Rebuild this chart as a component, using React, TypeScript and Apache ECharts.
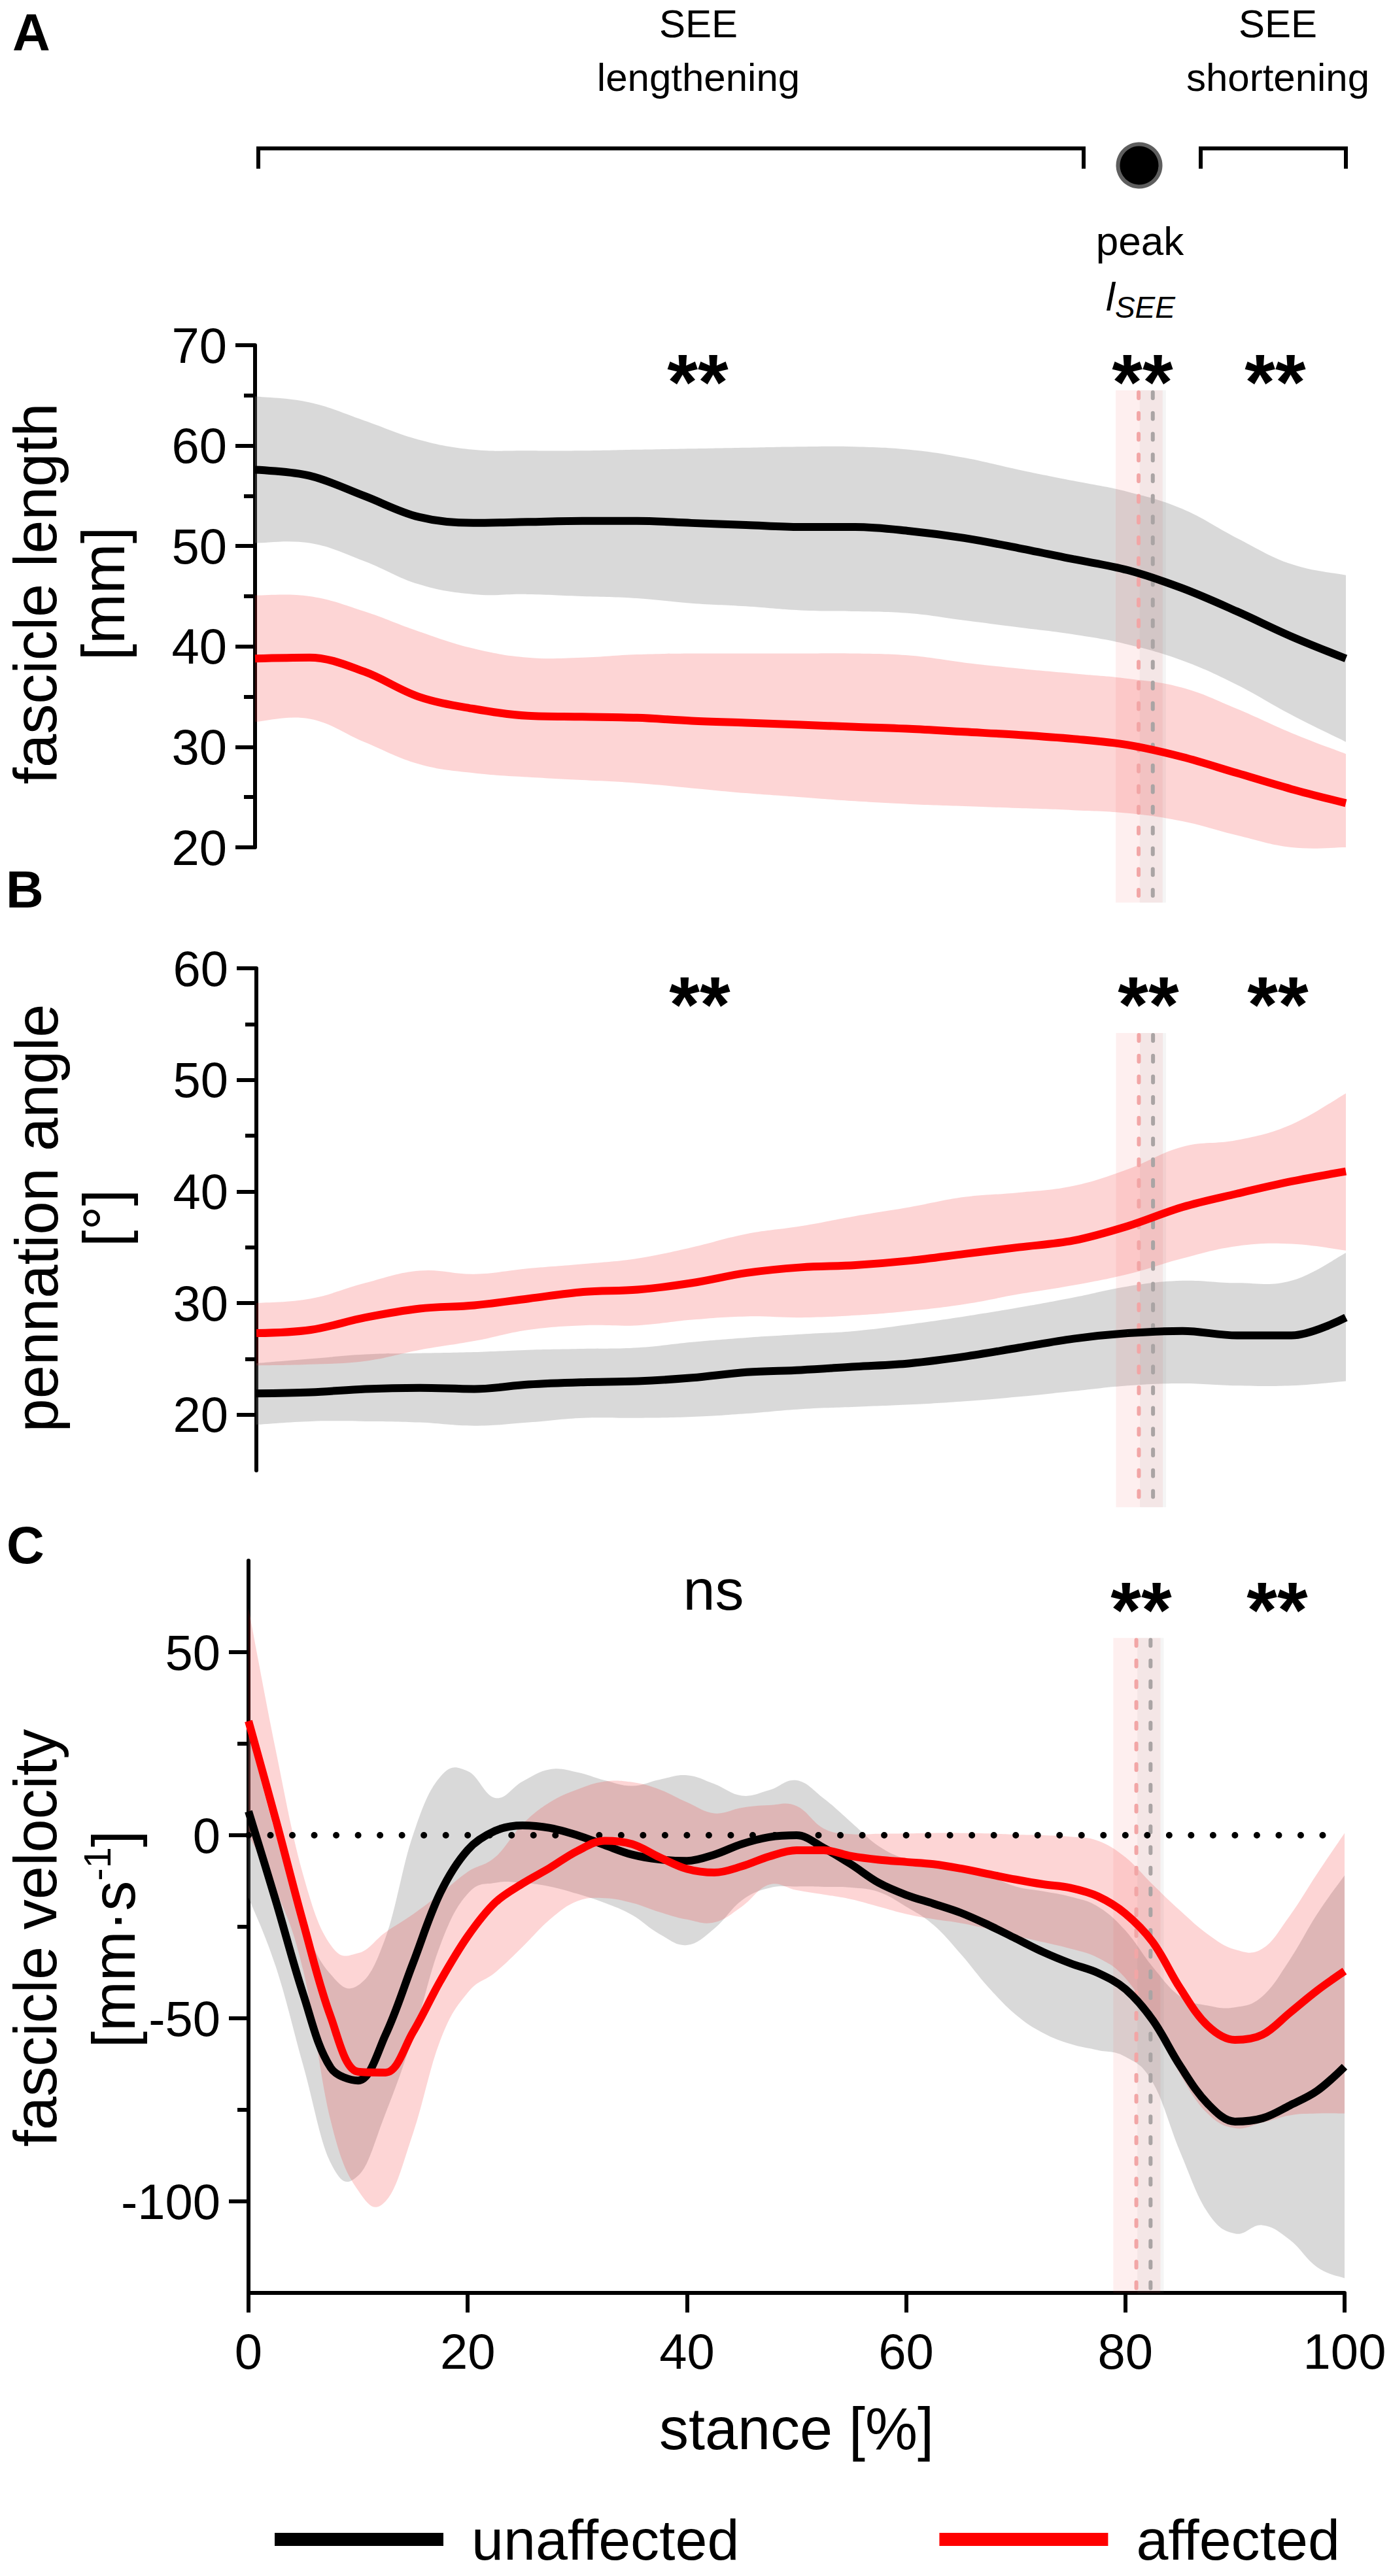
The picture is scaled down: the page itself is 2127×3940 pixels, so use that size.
import React, { useEffect, useRef } from "react";
import * as echarts from "echarts";

const FONT = "'Liberation Sans', Arial, Helvetica, sans-serif";

// ---------- x grids (% of stance) ----------
const stanceAB = [0, 5, 10, 15, 20, 25, 30, 35, 40, 45, 50, 55, 60, 65, 70, 75, 80, 85, 90, 95, 100];
const stanceC = [0, 2.5, 5, 7.5, 10, 12.5, 15, 17.5, 20, 22.5, 25, 27.5, 30, 32.5, 35, 37.5, 40, 42.5, 45, 47.5, 50,
  52.5, 55, 57.5, 60, 62.5, 65, 67.5, 70, 72.5, 75, 77.5, 80, 82.5, 85, 87.5, 90, 92.5, 95, 97.5, 100];

// ---------- A: fascicle length [mm] ----------
const lenUnaffectedMean = [57.6, 57.0, 55.0, 52.9, 52.3, 52.4, 52.5, 52.5, 52.3, 52.1, 51.9, 51.9, 51.5, 50.8, 49.8, 48.7, 47.6, 45.8, 43.5, 41.0, 38.8];
const lenUnaffectedUpper = [64.9, 64.3, 62.5, 60.6, 59.6, 59.5, 59.5, 59.6, 59.7, 59.8, 59.9, 59.9, 59.6, 58.8, 57.6, 56.5, 55.4, 53.7, 50.8, 48.2, 47.1];
const lenUnaffectedLower = [50.3, 50.3, 48.5, 46.2, 45.2, 45.2, 45.0, 44.8, 44.3, 44.0, 43.6, 43.5, 43.3, 42.6, 41.9, 41.2, 40.2, 38.6, 36.2, 33.2, 30.5];
const lenAffectedMean = [38.8, 38.9, 37.5, 35.0, 33.8, 33.1, 33.0, 32.9, 32.6, 32.4, 32.2, 32.0, 31.8, 31.5, 31.2, 30.8, 30.2, 29.0, 27.4, 25.8, 24.4];
const lenAffectedUpper = [45.1, 45.0, 43.5, 41.5, 39.8, 38.9, 38.9, 39.2, 39.3, 39.3, 39.3, 39.3, 39.1, 38.4, 37.8, 37.3, 36.8, 35.9, 33.8, 31.4, 29.3];
const lenAffectedLower = [32.5, 32.8, 30.5, 28.3, 27.4, 27.0, 26.7, 26.4, 25.9, 25.4, 25.0, 24.6, 24.3, 24.1, 23.9, 23.7, 23.4, 22.6, 21.2, 20.0, 20.0];

// ---------- B: pennation angle [deg] ----------
const angUnaffectedMean = [21.9, 22.0, 22.3, 22.4, 22.3, 22.7, 22.9, 23.0, 23.3, 23.8, 24.0, 24.3, 24.6, 25.2, 26.0, 26.8, 27.3, 27.5, 27.1, 27.1, 28.7];
const angUnaffectedUpper = [24.6, 25.0, 25.4, 25.5, 25.6, 25.8, 25.9, 26.0, 26.5, 26.9, 27.2, 27.5, 28.1, 28.8, 29.6, 30.5, 31.5, 32.0, 31.8, 32.0, 34.5];
const angUnaffectedLower = [19.1, 19.4, 19.4, 19.3, 19.0, 19.3, 19.7, 19.7, 19.8, 20.1, 20.5, 20.7, 20.9, 21.2, 21.6, 22.1, 22.6, 22.8, 22.6, 22.6, 23.0];
const angAffectedMean = [27.3, 27.6, 28.7, 29.5, 29.8, 30.4, 31.0, 31.2, 31.8, 32.7, 33.2, 33.4, 33.8, 34.4, 35.0, 35.6, 36.9, 38.6, 39.8, 40.9, 41.8];
const angAffectedUpper = [30.0, 30.4, 31.8, 32.9, 32.6, 33.1, 33.5, 34.0, 35.0, 36.2, 36.9, 37.8, 38.6, 39.5, 39.9, 40.5, 42.0, 44.0, 44.6, 46.0, 48.8];
const angAffectedLower = [24.4, 24.5, 24.8, 25.8, 26.6, 27.6, 28.0, 28.0, 28.5, 28.8, 28.7, 28.9, 29.3, 29.9, 30.8, 31.6, 32.6, 34.0, 35.1, 35.3, 34.7];

// ---------- C: fascicle velocity [mm/s] ----------
const velUnaffectedMean = [6.5, -18, -43.5, -63.5, -67, -54.5, -35, -15.7, -4, 1.2, 2.7, 2.0, 0, -2.7, -5.3, -6.6, -7, -5.3, -2.4, -0.5, 0,
  -3.5, -8, -13, -16.3, -18.7, -21.2, -24.5, -28.2, -31.9, -35, -37.6, -42, -50.5, -63, -73.3, -78.2, -77.3, -73.8, -69.8, -63.2];
const velUnaffectedUpper = [28, 0, -24, -38, -41, -28, 0, 16, 17.5, 10.2, 14.7, 18, 17.2, 15, 13.5, 15.2, 16.4, 14, 10.8, 12.3, 15,
  10, 3.5, -3, -6.5, -7.7, -9, -11, -14, -15.3, -16.8, -19.5, -26, -36, -44, -46.5, -47, -44, -34, -21.5, -11];
const velUnaffectedLower = [-17, -36, -63, -89.5, -93, -76, -55, -30, -16, -13, -13, -14, -16, -18.5, -21.8, -27, -30, -25.5, -17.8, -14.4, -14,
  -14.1, -14.3, -15.5, -19.5, -24.5, -32.5, -41.5, -49, -54, -57, -58.7, -60.5, -67.5, -86.5, -103, -108.8, -106.5, -110.5, -118, -121];
const velAffectedMean = [31.2, 4.1, -24, -49.6, -64.6, -64.8, -53.8, -39.8, -27.6, -18.4, -13.2, -8.9, -4.3, -1.5, -2.4, -6, -9.2, -10.2, -8.5, -5.8, -4.1,
  -4.1, -5.7, -6.7, -7.3, -7.9, -9.1, -10.6, -12.1, -13.4, -14.4, -16.7, -21.4, -29.2, -41.8, -52, -55.9, -54.5, -48.5, -42.4, -37.1];
const velAffectedUpper = [62, 23, -11, -30, -32.2, -26.5, -21.6, -16, -10, -6, 3, 9, 12.5, 14.7, 14.5, 12.5, 9, 6, 7.5, 8.2, 8,
  1.8, 0.3, 0.4, 0.5, 0.6, 0.6, 0.5, 0.2, 0, -0.4, -1.5, -6, -13.5, -20.6, -27, -31.2, -31, -22, -10.5, 0.6];
const velAffectedLower = [0, -15, -37, -78, -97, -100, -81.5, -56, -43, -37.5, -30.5, -23, -18, -17.2, -18.5, -21, -23, -23.8, -19.5, -13.5, -15,
  -16.2, -17.5, -19.5, -21.5, -22.9, -24, -25.6, -27.5, -29.2, -31, -33.5, -39, -50.5, -65.3, -76, -80, -78.5, -76.5, -76, -76];

// ---------- peak l_SEE timing (% stance) ----------
const peakAffected = 81.0;
const peakAffectedRange = [78.9, 83.2];
const peakUnaffected = 82.3;
const peakUnaffectedRange = [81.1, 83.5];

// ---------- axis ticks ----------
const lenTicks = [20, 30, 40, 50, 60, 70];
const lenMinorTicks = [25, 35, 45, 55, 65];
const angTicks = [20, 30, 40, 50, 60];
const angMinorTicks = [25, 35, 45, 55];
const velTicks = [-100, -50, 0, 50];
const velMinorTicks = [-75, -25, 25];
const zeroLine = [[0, 0], [99, 0]];

// ---------- layout ----------
const W = 2127;
const H = 3940;
const GRIDS = [
  { left: 390, top: 528, width: 1668, height: 768 },
  { left: 392, top: 1481, width: 1666, height: 768 },
  { left: 380, top: 2387, width: 1676, height: 1120 },
];
const Y_RANGES = [
  [20, 70],
  [15, 60],
  [-125, 75],
];
// vertical extent of the peak band in each panel (data units, extends beyond axes)
const BAND_EXTENT = [
  [65.5, 14.5],
  [54.2, 11.7],
  [53.9, -125],
];

const GRAY_SD = "rgba(128,128,128,0.3)";
const PINK_SD = "rgba(245,45,45,0.2)";
const RED = "#ff0000";

const pairs = (xs: number[], ys: number[]) => xs.map((x, i) => [x, ys[i]]);

// smooth (Catmull-Rom style) path through pixel points
function curvePath(pts: number[][], start: "M" | "L") {
  const f = (p: number[]) => p[0].toFixed(2) + "," + p[1].toFixed(2);
  let d = start + f(pts[0]);
  const k = 0.2;
  for (let i = 0; i < pts.length - 1; i++) {
    const p0 = pts[Math.max(i - 1, 0)];
    const p1 = pts[i];
    const p2 = pts[i + 1];
    const p3 = pts[Math.min(i + 2, pts.length - 1)];
    const c1 = [p1[0] + (p2[0] - p0[0]) * k, p1[1] + (p2[1] - p0[1]) * k];
    const c2 = [p2[0] - (p3[0] - p1[0]) * k, p2[1] - (p3[1] - p1[1]) * k];
    d += "C" + f(c1) + " " + f(c2) + " " + f(p2);
  }
  return d;
}

function sdBand(g: number, name: string, xs: number[], lo: number[], up: number[], color: string) {
  return {
    type: "custom",
    name,
    xAxisIndex: g,
    yAxisIndex: g,
    silent: true,
    clip: false,
    data: [[xs[0], lo[0]]],
    renderItem: (params: any, api: any) => {
      const U = xs.map((x, i) => api.coord([x, up[i]]));
      const L = xs.map((x, i) => api.coord([x, lo[i]])).reverse();
      const d = curvePath(U, "M") + curvePath(L, "L") + "Z";
      return { type: "path", shape: { pathData: d }, style: { fill: color } };
    },
  };
}

function meanLine(g: number, name: string, xs: number[], ys: number[], color: string) {
  return {
    type: "line",
    name,
    xAxisIndex: g,
    yAxisIndex: g,
    data: pairs(xs, ys),
    smooth: 0.35,
    symbol: "none",
    silent: true,
    color,
    itemStyle: { color },
    lineStyle: { color, width: 12 },
  };
}

function peakBands(g: number) {
  const [yTop, yBot] = BAND_EXTENT[g];
  return [
    {
      type: "custom",
      name: "peak spread",
      xAxisIndex: g,
      yAxisIndex: g,
      silent: true,
      clip: false,
      data: [
        [peakAffectedRange[0], peakAffectedRange[1], yTop, yBot, 0],
        [peakUnaffectedRange[0], peakUnaffectedRange[1], yTop, yBot, 1],
      ],
      renderItem: (params: any, api: any) => {
        const a = api.coord([api.value(0), api.value(2)]);
        const b = api.coord([api.value(1), api.value(3)]);
        return {
          type: "rect",
          shape: { x: a[0], y: a[1], width: b[0] - a[0], height: b[1] - a[1] },
          style: { fill: api.value(4) === 0 ? "rgba(245,45,45,0.08)" : "rgba(128,128,128,0.08)" },
        };
      },
    },
    {
      type: "custom",
      name: "peak mean",
      xAxisIndex: g,
      yAxisIndex: g,
      silent: true,
      clip: false,
      data: [
        [peakAffected, yTop, yBot, 0],
        [peakUnaffected, yTop, yBot, 1],
      ],
      renderItem: (params: any, api: any) => {
        const p = api.coord([api.value(0), api.value(1)]);
        const q = api.coord([api.value(0), api.value(2)]);
        return {
          type: "line",
          shape: { x1: p[0], y1: p[1] + 3, x2: q[0], y2: q[1] },
          style: {
            stroke: api.value(3) === 0 ? "#f2a6a6" : "#aaa4a4",
            lineWidth: 6,
            lineDash: [9, 22.7],
            lineCap: "round",
          },
        };
      },
    },
  ];
}

function yAxes(g: number, ticks: number[], minor: number[]) {
  const [min, max] = Y_RANGES[g];
  return [
    {
      gridIndex: g,
      type: "value",
      min,
      max,
      position: "left",
      axisLine: { show: true, onZero: false, lineStyle: { color: "#000", width: 6 } },
      axisTick: { show: true, length: 30, lineStyle: { color: "#000", width: 6 }, customValues: ticks },
      axisLabel: { show: true, customValues: ticks, fontSize: 76, margin: 43, color: "#000", fontFamily: FONT },
      splitLine: { show: false },
    },
    {
      gridIndex: g,
      type: "value",
      min,
      max,
      position: "left",
      axisLine: { show: false, onZero: false },
      axisTick: { show: true, length: 17, lineStyle: { color: "#000", width: 6 }, customValues: minor },
      axisLabel: { show: false },
      splitLine: { show: false },
    },
  ];
}

const text = (t: string, x: number, y: number, fontSize: number, extra: any = {}, el: any = {}) => ({
  type: "text",
  x,
  y,
  silent: true,
  ...el,
  style: {
    text: t,
    fontSize,
    fontFamily: FONT,
    fill: "#000",
    align: "center",
    verticalAlign: "middle",
    textAlign: "center",
    textVerticalAlign: "middle",
    ...extra,
  },
});

function buildOption() {
  const y0 = yAxes(0, lenTicks, lenMinorTicks);
  const y1 = yAxes(1, angTicks, angMinorTicks);
  const y2 = yAxes(2, velTicks, velMinorTicks);
  const yAxis = [y0[0], y1[0], y2[0], y0[1], y1[1], y2[1]];

  const hiddenX = (g: number) => ({ gridIndex: g, type: "value", min: 0, max: 100, show: false, axisLine: { onZero: false } });

  const series: any[] = [
    // A
    sdBand(0, "unaffected SD", stanceAB, lenUnaffectedLower, lenUnaffectedUpper, GRAY_SD),
    meanLine(0, "unaffected", stanceAB, lenUnaffectedMean, "#000"),
    sdBand(0, "affected SD", stanceAB, lenAffectedLower, lenAffectedUpper, PINK_SD),
    meanLine(0, "affected", stanceAB, lenAffectedMean, RED),
    ...peakBands(0),
    // B
    sdBand(1, "unaffected SD", stanceAB, angUnaffectedLower, angUnaffectedUpper, GRAY_SD),
    meanLine(1, "unaffected", stanceAB, angUnaffectedMean, "#000"),
    sdBand(1, "affected SD", stanceAB, angAffectedLower, angAffectedUpper, PINK_SD),
    meanLine(1, "affected", stanceAB, angAffectedMean, RED),
    ...peakBands(1),
    // C
    sdBand(2, "unaffected SD", stanceC, velUnaffectedLower, velUnaffectedUpper, GRAY_SD),
    meanLine(2, "unaffected", stanceC, velUnaffectedMean, "#000"),
    sdBand(2, "affected SD", stanceC, velAffectedLower, velAffectedUpper, PINK_SD),
    {
      type: "line",
      name: "zero",
      xAxisIndex: 2,
      yAxisIndex: 2,
      data: zeroLine,
      symbol: "none",
      silent: true,
      lineStyle: { color: "#000", width: 10, type: [0.01, 33.51], dashOffset: 0.01, cap: "round" },
    },
    meanLine(2, "affected", stanceC, velAffectedMean, RED),
    ...peakBands(2),
  ];

  const graphic: any[] = [
    // panel letters
    text("A", 19, 49, 80, { fontWeight: "bold", align: "left", textAlign: "left" }),
    text("B", 9, 1360, 80, { fontWeight: "bold", align: "left", textAlign: "left" }),
    text("C", 10, 2363, 80, { fontWeight: "bold", align: "left", textAlign: "left" }),
    // top annotation
    text("SEE", 1068, 36, 60),
    text("lengthening", 1068, 118, 60),
    text("SEE", 1954, 36, 60),
    text("shortening", 1954, 118, 60),
    {
      type: "polyline",
      silent: true,
      shape: { points: [[395, 258], [395, 227], [1657, 227], [1657, 258]] },
      style: { stroke: "#000", lineWidth: 6, fill: null },
    },
    {
      type: "polyline",
      silent: true,
      shape: { points: [[1836, 258], [1836, 227], [2058, 227], [2058, 258]] },
      style: { stroke: "#000", lineWidth: 6, fill: null },
    },
    {
      type: "circle",
      silent: true,
      shape: { cx: 1742, cy: 253, r: 32.5 },
      style: { fill: "#000", stroke: "#5e5e5e", lineWidth: 6 },
    },
    text("peak", 1743, 368, 62),
    {
      type: "text",
      x: 1744,
      y: 453,
      silent: true,
      style: {
        text: "{l|l}{s|SEE}",
        fontFamily: FONT,
        fill: "#000",
        align: "center",
        verticalAlign: "middle",
        textAlign: "center",
        textVerticalAlign: "middle",
        rich: {
          l: { fontSize: 62, fontStyle: "italic", fontFamily: FONT, lineHeight: 80, fill: "#000" },
          s: { fontSize: 46, fontStyle: "italic", fontFamily: FONT, lineHeight: 46, verticalAlign: "bottom", fill: "#000" },
        },
      },
    },
    // significance markers
    text("**", 1067, 584, 120, { fontWeight: "bold" }),
    text("**", 1747, 584, 120, { fontWeight: "bold" }),
    text("**", 1950, 584, 120, { fontWeight: "bold" }),
    text("**", 1070, 1536, 120, { fontWeight: "bold" }),
    text("**", 1756, 1536, 120, { fontWeight: "bold" }),
    text("**", 1954, 1536, 120, { fontWeight: "bold" }),
    text("ns", 1091, 2431, 88),
    text("**", 1745, 2462, 120, { fontWeight: "bold" }),
    text("**", 1953, 2462, 120, { fontWeight: "bold" }),
    // y-axis titles
    text("fascicle length", 54, 908, 92, {}, { rotation: Math.PI / 2 }),
    text("[mm]", 158, 908, 92, {}, { rotation: Math.PI / 2 }),
    text("pennation angle", 56, 1863, 92, {}, { rotation: Math.PI / 2 }),
    text("[°]", 160, 1863, 92, {}, { rotation: Math.PI / 2 }),
    text("fascicle velocity", 54, 2964, 92, {}, { rotation: Math.PI / 2 }),
    {
      type: "text",
      x: 174,
      y: 2966,
      rotation: Math.PI / 2,
      silent: true,
      style: {
        text: "{a|[mm·s}{s|-1}{a|]}",
        fontFamily: FONT,
        fill: "#000",
        align: "center",
        verticalAlign: "middle",
        textAlign: "center",
        textVerticalAlign: "middle",
        rich: {
          a: { fontSize: 92, fontFamily: FONT, lineHeight: 110, fill: "#000" },
          s: { fontSize: 58, fontFamily: FONT, lineHeight: 80, verticalAlign: "top", fill: "#000" },
        },
      },
    },
  ];

  return {
    animation: false,
    backgroundColor: "#fff",
    textStyle: { fontFamily: FONT, color: "#000" },
    grid: GRIDS.map((g) => ({ ...g, containLabel: false, outerBoundsMode: "none" })),
    xAxis: [
      hiddenX(0),
      hiddenX(1),
      {
        gridIndex: 2,
        type: "value",
        min: 0,
        max: 100,
        interval: 20,
        axisLine: { show: true, onZero: false, lineStyle: { color: "#000", width: 6 } },
        axisTick: { show: true, length: 30, lineStyle: { color: "#000", width: 6 } },
        axisLabel: { fontSize: 76, margin: 51, color: "#000", fontFamily: FONT },
        splitLine: { show: false },
        name: "stance [%]",
        nameLocation: "middle",
        nameGap: 163,
        nameTextStyle: { fontSize: 90, color: "#000", fontFamily: FONT },
      },
    ],
    yAxis,
    legend: {
      show: true,
      data: ["unaffected", "affected"],
      left: 420,
      top: 3839,
      orient: "horizontal",
      icon: "rect",
      itemWidth: 258,
      itemHeight: 20,
      itemGap: 306,
      selectedMode: false,
      padding: 0,
      textStyle: { fontSize: 88, fontFamily: FONT, color: "#000", lineHeight: 90, padding: [0, 0, 0, 38] },
    },
    series,
    graphic,
  };
}

export default function App() {
  const ref = useRef<HTMLDivElement>(null);
  useEffect(() => {
    document.body.style.margin = "0";
    const chart = echarts.init(ref.current as HTMLDivElement, null, { renderer: "svg", width: W, height: H });
    chart.setOption(buildOption() as any);
    return () => chart.dispose();
  }, []);
  return <div ref={ref} style={{ width: W, height: H }} />;
}
